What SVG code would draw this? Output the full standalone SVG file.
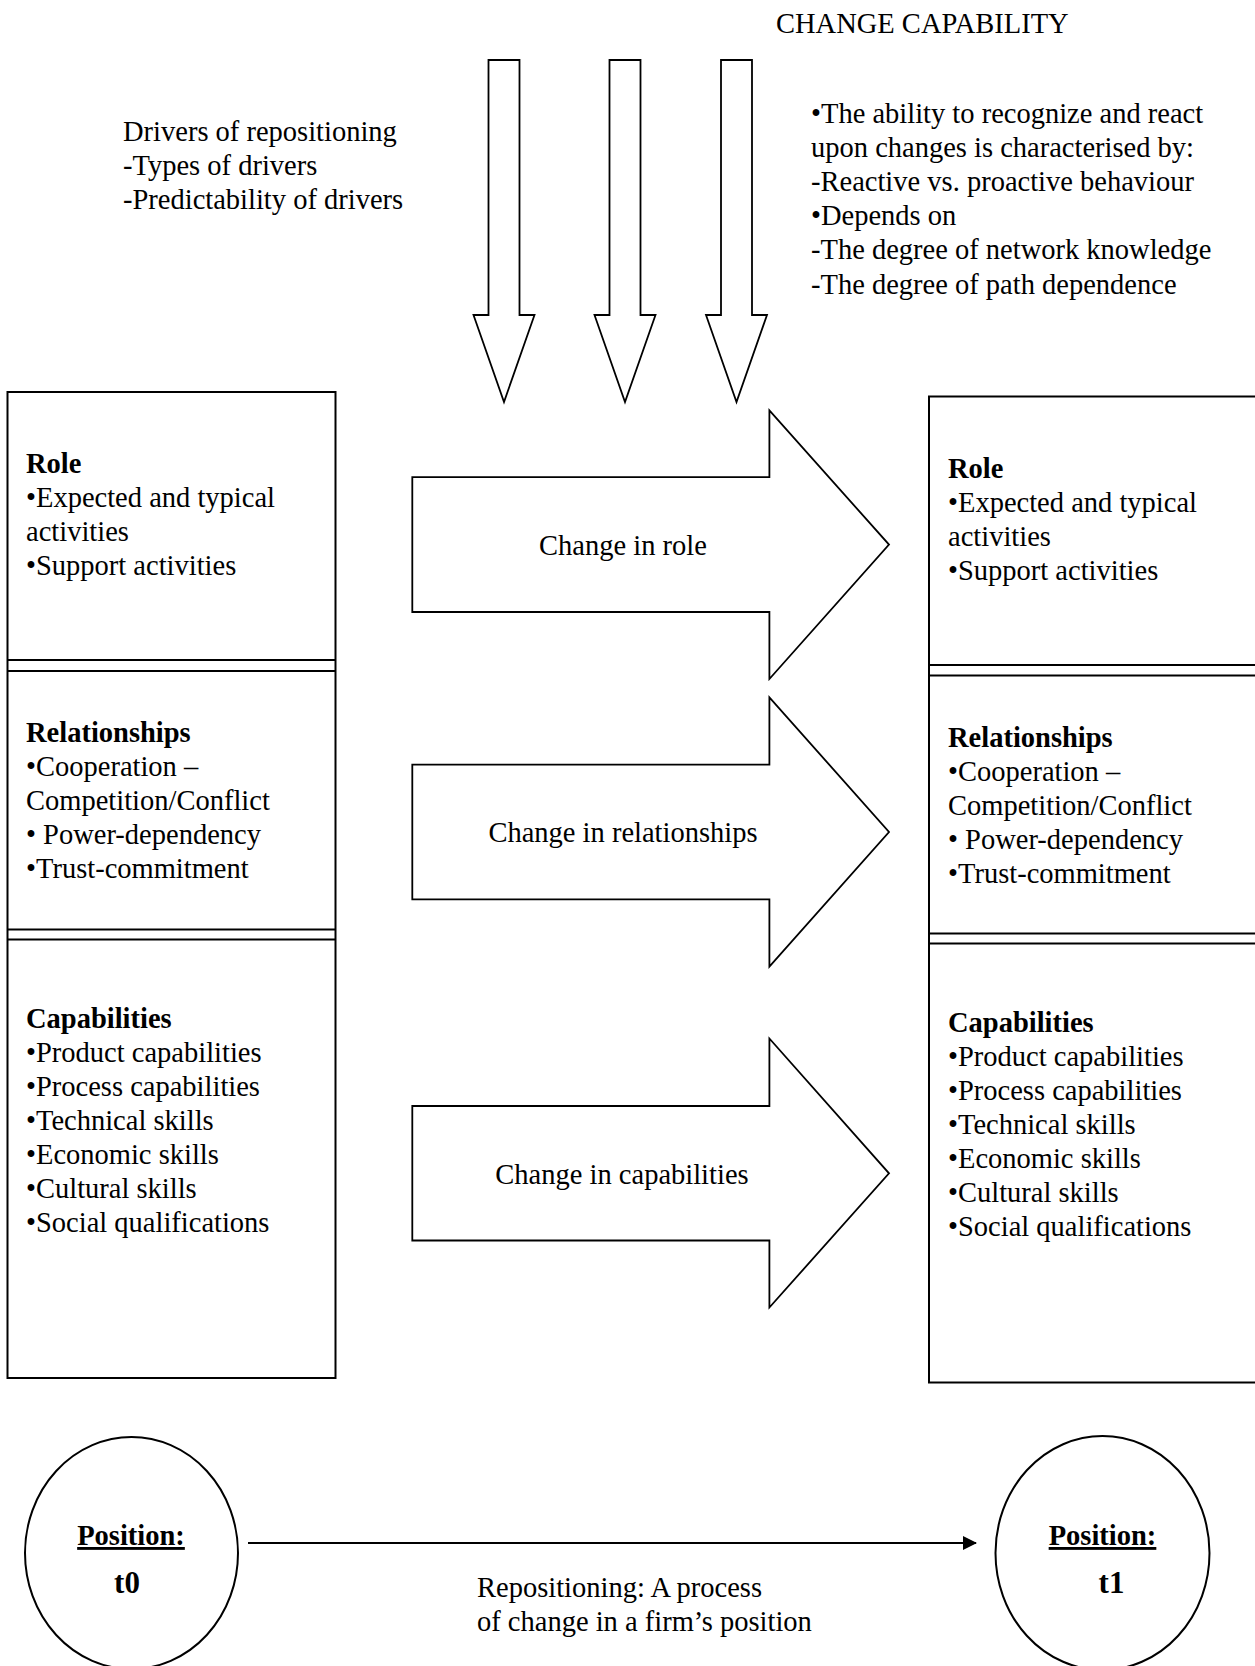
<svg xmlns="http://www.w3.org/2000/svg" width="1255" height="1666" viewBox="0 0 1255 1666">
<style>
text{font-family:"Liberation Serif","Times New Roman",serif;font-size:28.5px;fill:#000}
.b{font-weight:bold}
.c{text-anchor:middle}
.t{font-size:31px}
.box{fill:#fff;stroke:#000;stroke-width:2}
.sep{stroke:#000;stroke-width:2}
.arr{fill:#fff;stroke:#000;stroke-width:1.8;stroke-linejoin:miter}
.ell{fill:#fff;stroke:#000;stroke-width:2}
</style>
<defs>
<marker id="ah" markerWidth="14" markerHeight="14" refX="13" refY="7" orient="auto" markerUnits="userSpaceOnUse">
<path d="M0,0 L14,7 L0,14 Z" fill="#000"/>
</marker>
</defs>
<rect width="1255" height="1666" fill="#fff"/>

<g id="change-capability">
<text x="776" y="33">CHANGE CAPABILITY</text>
<text x="811" y="123">•The ability to recognize and react</text>
<text x="811" y="157">upon changes is characterised by:</text>
<text x="811" y="191">-Reactive vs. proactive behaviour</text>
<text x="811" y="225">•Depends on</text>
<text x="811" y="259">-The degree of network knowledge</text>
<text x="811" y="294">-The degree of path dependence</text>
</g>

<g id="drivers">
<text x="123" y="141">Drivers of repositioning</text>
<text x="123" y="175">-Types of drivers</text>
<text x="123" y="209">-Predictability of drivers</text>
</g>

<g id="down-arrows">
<polygon class="arr" points="488.5,60 519.5,60 519.5,315 534.5,315 504,402 473.5,315 488.5,315"/>
<polygon class="arr" points="609.5,60 640.5,60 640.5,315 655.5,315 625,402 594.5,315 609.5,315"/>
<polygon class="arr" points="721,60 752,60 752,315 767,315 736.5,402 706,315 721,315"/>
</g>

<g id="position-t0-box">
<rect class="box" x="7.5" y="392" width="328" height="986"/>
<line class="sep" x1="7.5" y1="660" x2="335.5" y2="660"/>
<line class="sep" x1="7.5" y1="671" x2="335.5" y2="671"/>
<line class="sep" x1="7.5" y1="929.5" x2="335.5" y2="929.5"/>
<line class="sep" x1="7.5" y1="939.5" x2="335.5" y2="939.5"/>
<text class="b" x="26" y="473">Role</text>
<text x="26" y="507">•Expected and typical</text>
<text x="26" y="541">activities</text>
<text x="26" y="575">•Support activities</text>
<text class="b" x="26" y="742">Relationships</text>
<text x="26" y="776">•Cooperation –</text>
<text x="26" y="810">Competition/Conflict</text>
<text x="26" y="844">• Power-dependency</text>
<text x="26" y="878">•Trust-commitment</text>
<text class="b" x="26" y="1028">Capabilities</text>
<text x="26" y="1062">•Product capabilities</text>
<text x="26" y="1096">•Process capabilities</text>
<text x="26" y="1130">•Technical skills</text>
<text x="26" y="1164">•Economic skills</text>
<text x="26" y="1198">•Cultural skills</text>
<text x="26" y="1232">•Social qualifications</text>
</g>

<g id="position-t1-box">
<rect class="box" x="929" y="396.5" width="340" height="986"/>
<line class="sep" x1="929" y1="665" x2="1260" y2="665"/>
<line class="sep" x1="929" y1="675.5" x2="1260" y2="675.5"/>
<line class="sep" x1="929" y1="933.5" x2="1260" y2="933.5"/>
<line class="sep" x1="929" y1="943.5" x2="1260" y2="943.5"/>
<text class="b" x="948" y="478">Role</text>
<text x="948" y="512">•Expected and typical</text>
<text x="948" y="546">activities</text>
<text x="948" y="580">•Support activities</text>
<text class="b" x="948" y="746.5">Relationships</text>
<text x="948" y="780.5">•Cooperation –</text>
<text x="948" y="814.5">Competition/Conflict</text>
<text x="948" y="848.5">• Power-dependency</text>
<text x="948" y="882.5">•Trust-commitment</text>
<text class="b" x="948" y="1032">Capabilities</text>
<text x="948" y="1066">•Product capabilities</text>
<text x="948" y="1100">•Process capabilities</text>
<text x="948" y="1134">•Technical skills</text>
<text x="948" y="1168">•Economic skills</text>
<text x="948" y="1202">•Cultural skills</text>
<text x="948" y="1236">•Social qualifications</text>
</g>

<g id="change-in-role">
<polygon class="arr" points="412.3,477.2 769.4,477.2 769.4,410.4 889,544.6 769.4,679 769.4,612 412.3,612"/>
<text class="c" x="623" y="555">Change in role</text>
</g>
<g id="change-in-relationships">
<polygon class="arr" points="412.3,764.6 769.4,764.6 769.4,697.3 889,832 769.4,966.6 769.4,899.3 412.3,899.3"/>
<text class="c" x="623" y="842">Change in relationships</text>
</g>
<g id="change-in-capabilities">
<polygon class="arr" points="412.3,1106 769.4,1106 769.4,1038.5 889,1173.3 769.4,1307.5 769.4,1240.5 412.3,1240.5"/>
<text class="c" x="622" y="1184">Change in capabilities</text>
</g>

<g id="position-t0">
<ellipse class="ell" cx="131.5" cy="1553" rx="106.5" ry="116"/>
<text class="b c" x="131" y="1545" text-decoration="underline">Position:</text>
<text class="b c t" x="127" y="1593">t0</text>
</g>
<g id="position-t1">
<ellipse class="ell" cx="1102.5" cy="1553" rx="107" ry="117"/>
<text class="b c" x="1102.5" y="1545" text-decoration="underline">Position:</text>
<text class="b c t" x="1111.5" y="1593">t1</text>
</g>

<g id="connectors">
<line x1="248" y1="1543" x2="976" y2="1543" stroke="#000" stroke-width="2" marker-end="url(#ah)"/>
<text x="477" y="1597">Repositioning: A process</text>
<text x="477" y="1631">of change in a firm’s position</text>
</g>
</svg>
